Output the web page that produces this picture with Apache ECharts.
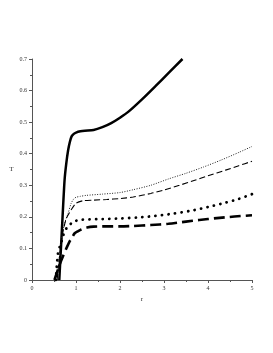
<!DOCTYPE html>
<html><head><meta charset="utf-8">
<script src="https://cdn.jsdelivr.net/npm/echarts@6/dist/echarts.min.js"></script>
<style>html,body{margin:0;padding:0;background:#fff}#c{width:273px;height:353px}</style>
</head><body><div id="c"></div>
<script>
const xTicks = [0,1,2,3,4,5];
const yTicks = [0,0.1,0.2,0.3,0.4,0.5,0.6,0.7];

const solidR = [0.62,0.68,0.74,0.78,0.82,0.86,0.90,0.95,1.0,1.1,1.2,1.4,1.6,1.8,2.0,2.2,2.5,2.8,3.1,3.42];
const solidT = [0,0.16,0.316,0.37,0.41,0.437,0.455,0.463,0.467,0.471,0.473,0.475,0.484,0.497,0.514,0.534,0.572,0.613,0.655,0.70];

const dotThinR = [0.57,0.62,0.67,0.74,0.82,0.89,0.95,1.0,1.1,1.23,1.6,2.0,2.3,2.7,3.1,3.5,3.9,4.3,4.7,5.0];
const dotThinT = [0,0.07,0.13,0.179,0.211,0.243,0.257,0.262,0.265,0.268,0.272,0.277,0.286,0.3,0.32,0.338,0.358,0.38,0.404,0.423];

const dashThinR = [0.57,0.63,0.70,0.78,0.89,1.0,1.16,1.4,1.7,2.0,2.3,2.7,3.0,3.35,3.7,4.0,4.4,4.7,5.0];
const dashThinT = [0,0.08,0.15,0.195,0.222,0.243,0.251,0.253,0.255,0.258,0.263,0.274,0.285,0.30,0.316,0.33,0.348,0.362,0.376];

const dotThickR = [0.54,0.59,0.63,0.67,0.70,0.74,0.80,0.89,0.97,1.08,1.3,1.6,2.0,2.4,2.8,3.2,3.6,4.0,4.4,4.7,5.0];
const dotThickT = [0,0.084,0.105,0.121,0.137,0.153,0.167,0.179,0.186,0.19,0.192,0.193,0.195,0.198,0.203,0.21,0.219,0.231,0.245,0.257,0.272];

const dashThickR = [0.51,0.57,0.63,0.70,0.78,0.85,0.92,0.97,1.05,1.12,1.25,1.4,1.7,2.0,2.3,2.7,3.1,3.5,3.8,4.2,4.6,5.0];
const dashThickT = [0,0.025,0.05,0.074,0.10,0.121,0.137,0.148,0.155,0.16,0.166,0.169,0.17,0.17,0.171,0.174,0.178,0.185,0.19,0.196,0.201,0.205];

function pairs(a,b){return a.map((v,i)=>[v,b[i]]);}
const font = 'Liberation Serif';
const chart = echarts.init(document.getElementById('c'), null, {renderer:'canvas'});
function mk(r,t,style){
  return {type:'line', data:pairs(r,t), showSymbol:false, smooth:0.25, animation:false,
    lineStyle:Object.assign({color:'#000'},style)};
}
chart.setOption({
  animation:false,
  grid:{left:32,right:21,top:59,bottom:73,containLabel:false},
  xAxis:{type:'value',min:0,max:5,interval:1,
    name:'r',nameLocation:'middle',nameGap:15,nameTextStyle:{fontFamily:font,fontSize:7,color:'#333'},
    axisLine:{onZero:false,lineStyle:{color:'#555',width:1}},
    axisTick:{show:true,length:3,inside:false,lineStyle:{color:'#555'}},
    minorTick:{show:true,splitNumber:2,length:2,lineStyle:{color:'#555'}},
    splitLine:{show:false},
    axisLabel:{fontFamily:font,fontSize:6,color:'#333',margin:5,formatter:v=>xTicks.includes(v)?String(v):''}},
  yAxis:{type:'value',min:0,max:0.7,interval:0.1,
    name:'T',nameLocation:'middle',nameGap:17,nameRotate:0,nameTextStyle:{fontFamily:font,fontSize:7,color:'#333'},
    axisLine:{show:true,onZero:false,lineStyle:{color:'#555',width:1}},
    axisTick:{show:true,length:3,inside:false,lineStyle:{color:'#555'}},
    minorTick:{show:true,splitNumber:2,length:2,lineStyle:{color:'#555'}},
    splitLine:{show:false},
    axisLabel:{fontFamily:font,fontSize:6,color:'#333',margin:5,formatter:v=>{const f=yTicks.find(t=>Math.abs(t-v)<1e-9);return f===undefined?'':(f===0?'0':f.toFixed(1));}}},
  series:[
    mk(solidR,solidT,{width:2.5,type:'solid'}),
    mk(dotThinR,dotThinT,{width:1,type:[1,1.5],color:'#222'}),
    mk(dashThinR,dashThinT,{width:1.1,type:[6,3]}),
    mk(dotThickR,dotThickT,{width:2.8,type:[0.1,6.5],cap:'round'}),
    mk(dashThickR,dashThickT,{width:2.6,type:[11,5]})
  ]
});
</script></body></html>
